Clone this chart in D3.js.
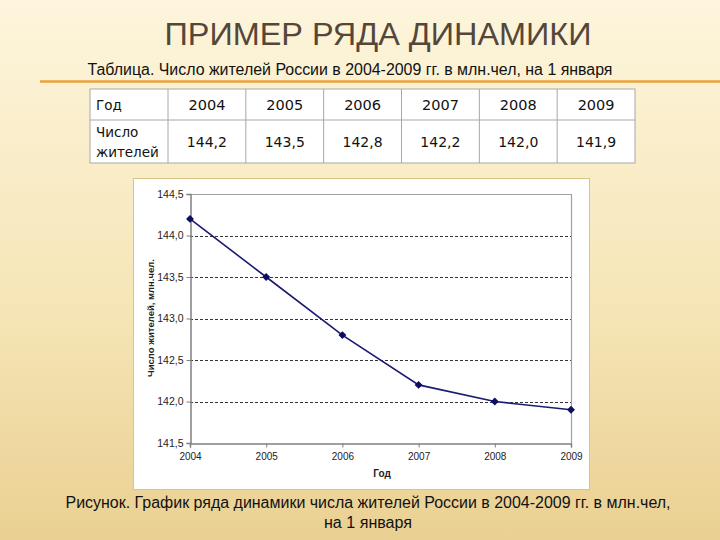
<!DOCTYPE html>
<html><head><meta charset="utf-8">
<script src="https://cdn.jsdelivr.net/npm/d3@7"></script>
<style>html,body{margin:0;padding:0;}svg{display:block;}</style>
</head><body>
<svg id="c" width="720" height="540"></svg>
<script>
const years = [2004, 2005, 2006, 2007, 2008, 2009];
const population = [144.2, 143.5, 142.8, 142.2, 142.0, 141.9];
const populationLabels = ["144,2", "143,5", "142,8", "142,2", "142,0", "141,9"];
const yTicks = [141.5, 142.0, 142.5, 143.0, 143.5, 144.0, 144.5];
const titleText = "ПРИМЕР РЯДА ДИНАМИКИ";
const subtitleText = "Таблица. Число жителей России в 2004-2009 гг. в млн.чел, на 1 января";
const captionLines = ["Рисунок. График ряда динамики числа жителей России в 2004-2009 гг. в млн.чел,", "на 1 января"];
const rowHeaders = ["Год", ["Число", "жителей"]];

const svg = d3.select("#c");
const narrow = "'Liberation Sans Narrow','Arial Narrow','Liberation Sans',Arial,sans-serif";

// background
const defs = svg.append("defs");
const g = defs.append("linearGradient").attr("id","bg").attr("x1",0).attr("y1",0).attr("x2",0).attr("y2",1);
g.append("stop").attr("offset","0%").attr("stop-color","#fdf5dc");
g.append("stop").attr("offset","55%").attr("stop-color","#f6e6b8");
g.append("stop").attr("offset","100%").attr("stop-color","#ead092");
svg.append("rect").attr("width",720).attr("height",540).attr("fill","url(#bg)");

// title
svg.append("text").attr("x",378).attr("y",45).attr("text-anchor","middle")
  .attr("font-family",narrow).attr("font-size",31).attr("fill","#54473a")
  .attr("textLength",427).attr("lengthAdjust","spacingAndGlyphs").text(titleText);
svg.append("text").attr("x",350).attr("y",75).attr("text-anchor","middle")
  .attr("font-family",narrow).attr("font-size",16).attr("fill","#111")
  .attr("textLength",525).attr("lengthAdjust","spacingAndGlyphs").text(subtitleText);
svg.append("line").attr("x1",40).attr("x2",720).attr("y1",81.5).attr("y2",81.5)
  .attr("stroke","#e8a23a").attr("stroke-width",2.5);

// table
const colX = d3.scaleBand().domain(years).range([168,635]);
const tableTop = 89, rowMid = 120, tableBottom = 163, tableLeft = 90;
const tg = svg.append("g");
tg.append("rect").attr("x",tableLeft).attr("y",tableTop).attr("width",635-tableLeft).attr("height",tableBottom-tableTop)
  .attr("fill","#ffffff").attr("stroke","#a8a8a8").attr("stroke-width",1);
tg.append("line").attr("x1",tableLeft).attr("x2",635).attr("y1",rowMid).attr("y2",rowMid).attr("stroke","#a8a8a8");
tg.selectAll("line.v").data(years).enter().append("line").attr("class","v")
  .attr("x1",d=>colX(d)).attr("x2",d=>colX(d)).attr("y1",tableTop).attr("y2",tableBottom).attr("stroke","#a8a8a8");
const tf = "'DejaVu Sans',Verdana,sans-serif";
tg.append("text").attr("x",96).attr("y",110).attr("font-family",tf).attr("font-size",13.5).attr("fill","#111").text(rowHeaders[0]);
tg.append("text").attr("x",96).attr("y",137).attr("font-family",tf).attr("font-size",13.5).attr("fill","#111").text(rowHeaders[1][0]);
tg.append("text").attr("x",96).attr("y",157).attr("font-family",tf).attr("font-size",13.5).attr("fill","#111").text(rowHeaders[1][1]);
tg.selectAll("text.yr").data(years).enter().append("text").attr("class","yr")
  .attr("x",d=>colX(d)+colX.bandwidth()/2).attr("y",110).attr("text-anchor","middle")
  .attr("font-family",tf).attr("font-size",14.5).attr("fill","#111").text(d=>d);
tg.selectAll("text.val").data(populationLabels).enter().append("text").attr("class","val")
  .attr("x",(d,i)=>colX(years[i])+colX.bandwidth()/2).attr("y",147).attr("text-anchor","middle")
  .attr("font-family",tf).attr("font-size",14).attr("fill","#111").text(d=>d);

// chart box
svg.append("rect").attr("x",133.5).attr("y",178.5).attr("width",456).attr("height",311)
  .attr("fill","#ffffff").attr("stroke","#d9c48a").attr("stroke-width",1);

const x = d3.scaleLinear().domain([2004,2009]).range([190,571]);
const y = d3.scaleLinear().domain([141.5,144.5]).range([443,194]);
const af = "'Liberation Sans',Arial,sans-serif";

// gridlines
svg.append("g").selectAll("line").data(yTicks.filter(t=>t>141.5 && t<144.5)).enter().append("line")
  .attr("x1",190).attr("x2",571).attr("y1",d=>Math.round(y(d))+0.5).attr("y2",d=>Math.round(y(d))+0.5)
  .attr("stroke","#333").attr("stroke-width",1).attr("stroke-dasharray","3,2");
// plot border top/right
svg.append("path").attr("d",`M190,${y(144.5)+0.5}H${571.5}V443`).attr("fill","none").attr("stroke","#a0a0a0").attr("stroke-width",1.2);

// axes
const yAxis = d3.axisLeft(y).tickValues(yTicks).tickSize(4).tickFormat(d=>d3.format(".1f")(d).replace(".",","));
const ya = svg.append("g").attr("transform","translate(190.5,0)").call(yAxis);
ya.select(".domain").attr("stroke","#808080").attr("stroke-width",1.5);
ya.selectAll(".tick line").attr("stroke","#808080");
ya.selectAll(".tick text").attr("font-family",af).attr("font-size",10.5).attr("fill","#222").attr("x",-7);

const xAxis = d3.axisBottom(x).tickValues(years).tickSize(4).tickFormat(d3.format("d"));
const xa = svg.append("g").attr("transform","translate(0,443.5)").call(xAxis);
xa.select(".domain").attr("stroke","#808080").attr("stroke-width",1.5);
xa.selectAll(".tick line").attr("stroke","#808080");
xa.selectAll(".tick text").attr("font-family",af).attr("font-size",10).attr("fill","#222").attr("y",9);

// axis titles
svg.append("text").attr("x",382).attr("y",477).attr("text-anchor","middle")
  .attr("font-family",af).attr("font-size",10).attr("font-weight","bold").attr("fill","#222").text("Год");
svg.append("text").attr("transform","translate(154,318) rotate(-90)").attr("text-anchor","middle")
  .attr("font-family",af).attr("font-size",9.5).attr("font-weight","bold").attr("fill","#222").text("Число жителей, млн.чел.");

// line & markers
const line = d3.line().x((d,i)=>x(years[i])).y(d=>y(d));
svg.append("path").datum(population).attr("d",line).attr("fill","none").attr("stroke","#1a1a72").attr("stroke-width",1.6);
svg.append("g").selectAll("path").data(population).enter().append("path")
  .attr("d",d3.symbol(d3.symbolDiamond2 || d3.symbolDiamond, 40))
  .attr("transform",(d,i)=>`translate(${x(years[i])},${y(d)})`)
  .attr("fill","#0d0d66");

// caption
svg.append("text").attr("x",368).attr("y",508).attr("text-anchor","middle")
  .attr("font-family",narrow).attr("font-size",16).attr("fill","#111")
  .attr("textLength",605).attr("lengthAdjust","spacingAndGlyphs").text(captionLines[0]);
svg.append("text").attr("x",368).attr("y",528).attr("text-anchor","middle")
  .attr("font-family",narrow).attr("font-size",16).attr("fill","#111")
  .attr("textLength",88).attr("lengthAdjust","spacingAndGlyphs").text(captionLines[1]);
</script>
</body></html>
